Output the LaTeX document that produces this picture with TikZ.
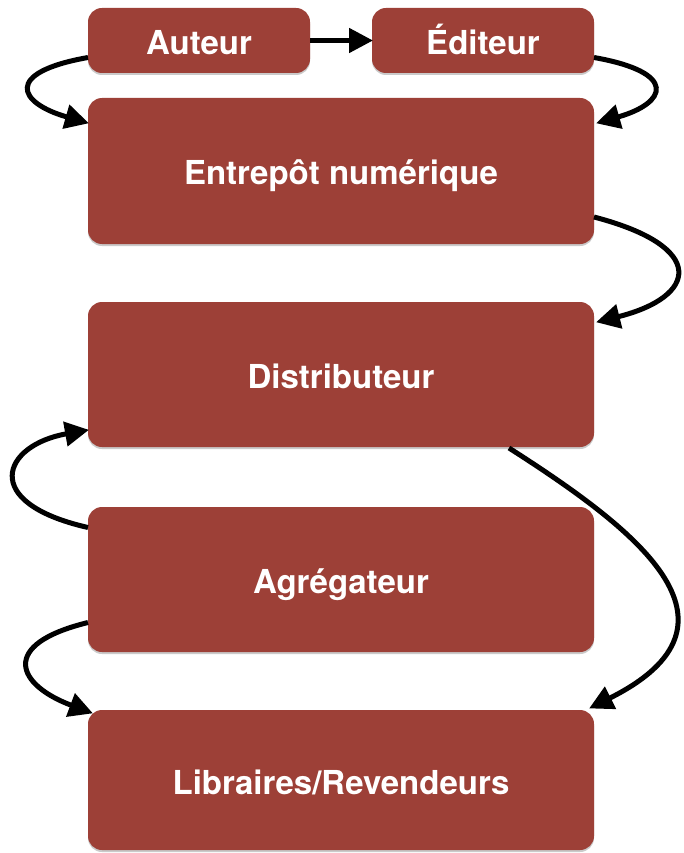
\documentclass[tikz,border=0pt]{standalone}
\usepackage{fontspec}
\setmainfont{TeX Gyre Heros}
\usetikzlibrary{arrows.meta,calc,shadows}
\definecolor{boxred}{RGB}{157,64,55}
\begin{document}
\begin{tikzpicture}[x=1pt,y=-1pt,
  box/.style={fill=boxred, draw=none, rounded corners=14pt, text=white,
    font=\fontsize{33}{38}\selectfont\bfseries, text height=28pt, text depth=0pt,
    drop shadow={opacity=0.35, shadow xshift=0pt, shadow yshift=-2pt, fill=black!60},
    inner sep=0pt, outer sep=0pt},
  conn/.style={line width=5pt, draw=black, -{Triangle[length=24pt,width=24pt]}, shorten >=-1pt}]
\useasboundingbox (0,0) rectangle (683,853);
\node[box, minimum width=222pt, minimum height=65pt] (aut) at (199,40.5) {Auteur};
\node[box, minimum width=222pt, minimum height=65pt] (edi) at (483,40.5) {Éditeur};
\node[box, minimum width=506pt, minimum height=146pt] (ent) at (341,171) {Entrepôt numérique};
\node[box, minimum width=506pt, minimum height=145pt] (dis) at (341,374.5) {Distributeur};
\node[box, minimum width=506pt, minimum height=145pt] (agr) at (341,579.5) {Agrégateur};
\node[box, minimum width=506pt, minimum height=140pt] (lib) at (341,780) {Libraires/Revendeurs};
% connectors
\draw[conn] (aut.east) -- (edi.west);
\draw[conn] ($(aut.west)+(0,17)$) .. controls +(-85,15) and +(-70,-20) .. ($(ent.north west)+(0,25)$);
\draw[conn] ($(edi.east)+(0,17)$) .. controls +(85,15) and +(70,-20) .. ($(ent.north east)+(3,25)$);
\draw[conn] ($(ent.east)+(0,46)$) .. controls +(115,30) and +(100,-25) .. ($(dis.north east)+(3,20)$);
\draw[conn] ($(dis.south east)+(-85,1)$) .. controls +(125,80) and +(170,-85) .. ($(lib.north east)+(-4,-2)$);
\draw[conn] ($(agr.west)+(0,-52)$) .. controls +(-110,-25) and +(-85,15) .. ($(dis.south west)+(0,-17)$);
\draw[conn] ($(agr.west)+(0,43)$) .. controls +(-90,22) and +(-75,-28) .. ($(lib.north west)+(4,3)$);
\end{tikzpicture}
\end{document}
